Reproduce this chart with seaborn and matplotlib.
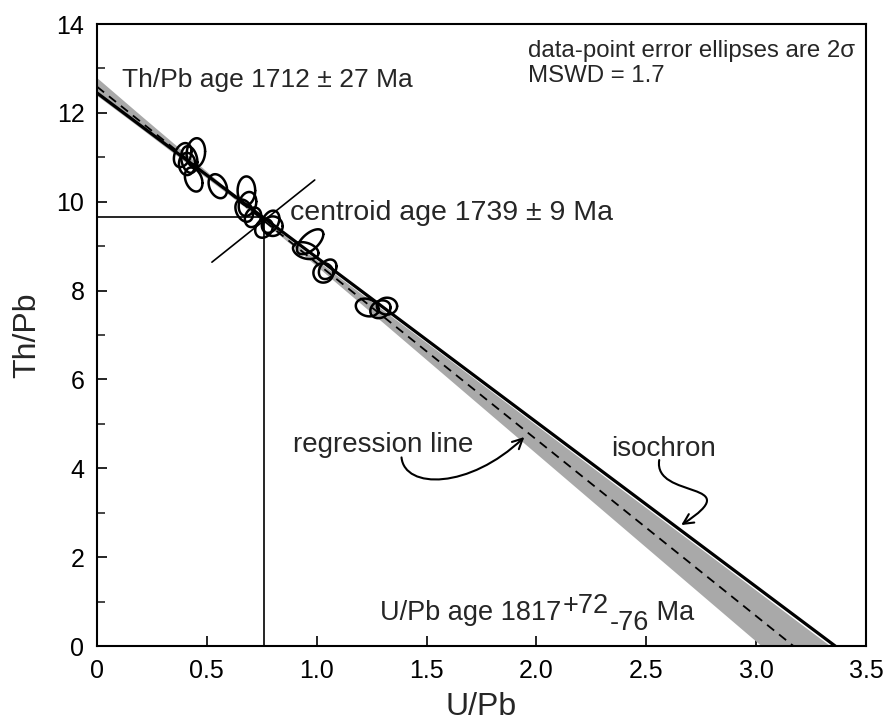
import numpy as np
import pandas as pd
import matplotlib
matplotlib.use("Agg")
import matplotlib.pyplot as plt
import seaborn as sns
from matplotlib.patches import FancyArrowPatch
from matplotlib.path import Path

# ---- data-point error ellipses (2 sigma) ----
u_pb   = [0.39, 0.42, 0.45, 0.41, 0.44, 0.55, 0.68, 0.685, 0.67, 0.71, 0.76, 0.80, 0.79, 0.97, 0.95, 1.03, 1.05, 1.23, 1.29, 1.32]
th_pb  = [11.05, 10.95, 11.10, 10.85, 10.50, 10.35, 10.25, 9.95, 9.80, 9.65, 9.40, 9.45, 9.55, 9.10, 8.90, 8.40, 8.48, 7.62, 7.58, 7.65]
err_u  = [0.040, 0.037, 0.042, 0.037, 0.040, 0.042, 0.040, 0.040, 0.040, 0.037, 0.040, 0.045, 0.040, 0.060, 0.058, 0.045, 0.040, 0.052, 0.046, 0.046]
err_th = [0.27, 0.30, 0.33, 0.25, 0.27, 0.27, 0.32, 0.27, 0.25, 0.22, 0.21, 0.22, 0.25, 0.28, 0.19, 0.22, 0.22, 0.20, 0.20, 0.19]
rho    = [0.3, -0.2, 0.1, 0.0, -0.3, -0.3, 0.0, 0.2, -0.3, 0.2, 0.2, 0.0, 0.3, 0.6, -0.3, 0.0, 0.3, -0.2, 0.2, 0.0]

# ---- regression line (dashed) and isochron (solid): intercepts on Th/Pb and U/Pb axes ----
regression_th0, regression_u0 = 12.59, 3.17
isochron_th0, isochron_u0 = 12.45, 3.36

# ---- regression error envelope (grey band) ----
band_u  = [0.0, 0.2, 0.4, 0.6, 0.76, 0.9, 1.2, 1.6, 2.0, 2.4, 2.8, 3.2, 3.4]
band_hi = [12.79, 11.94, 11.10, 10.26, 9.60, 9.06, 7.94, 6.46, 4.97, 3.48, 2.00, 0.51, -0.23]
band_lo = [12.39, 11.65, 10.90, 10.16, 9.54, 8.97, 7.71, 6.02, 4.33, 2.64, 0.95, -0.74, -1.59]

# ---- centroid ----
centroid_u, centroid_th = 0.76, 9.65
cross_u  = [0.523, 0.991]
cross_th = [8.64, 10.49]

# ---- ticks ----
x_ticks = [0, 0.5, 1.0, 1.5, 2.0, 2.5, 3.0, 3.5]
x_tick_labels = ["0", "0.5", "1.0", "1.5", "2.0", "2.5", "3.0", "3.5"]
y_ticks = [0, 2, 4, 6, 8, 10, 12, 14]
y_tick_labels = ["0", "2", "4", "6", "8", "10", "12", "14"]
y_minor = [1, 3, 5, 7, 9, 11, 13]

sns.set_theme(style="ticks")
plt.rcParams["font.family"] = ["Liberation Sans", "DejaVu Sans"]
plt.rcParams["axes.edgecolor"] = "black"
plt.rcParams["axes.linewidth"] = 1.5

fig = plt.figure(figsize=(8.85, 7.24), dpi=100)
ax = fig.add_axes([0.1096, 0.1077, 0.8689, 0.8591])

# band
ax.fill_between(band_u, band_lo, band_hi, color="#a9a9a9", linewidth=0, zorder=1)

# regression & isochron lines
reg_df = pd.DataFrame({"u": [0, regression_u0], "th": [regression_th0, 0]})
iso_df = pd.DataFrame({"u": [0, isochron_u0], "th": [isochron_th0, 0]})
sns.lineplot(data=reg_df, x="u", y="th", ax=ax, color="black", lw=1.3,
             linestyle=(0, (5, 3.5)), zorder=3)
sns.lineplot(data=iso_df, x="u", y="th", ax=ax, color="black", lw=2.3, zorder=4)

# centroid lines
ax.plot([0, centroid_u], [centroid_th, centroid_th], color="black", lw=1.2, zorder=4)
ax.plot([centroid_u, centroid_u], [0, centroid_th], color="black", lw=1.2, zorder=4)
ax.plot(cross_u, cross_th, color="black", lw=1.2, zorder=4)

# error ellipses
t = np.linspace(0, 2 * np.pi, 120)
for cx, cy, sx, sy, r in zip(u_pb, th_pb, err_u, err_th, rho):
    ex = cx + sx * np.cos(t)
    ey = cy + sy * (r * np.cos(t) + np.sqrt(1 - r * r) * np.sin(t))
    ax.plot(ex, ey, color="black", lw=1.8, zorder=5)

# texts
ax.text(0.112, 12.58, "Th/Pb age 1712 ± 27 Ma", fontsize=19, va="baseline")
ax.text(0.877, 9.59, "centroid age 1739 ± 9 Ma", fontsize=20.5, va="baseline")
ax.text(1.96, 13.25, "data-point error ellipses are 2σ", fontsize=17.3, va="baseline")
ax.text(1.96, 12.70, "MSWD = 1.7", fontsize=17.3, va="baseline")
ax.text(0.892, 4.37, "regression line", fontsize=20, va="baseline")
ax.text(2.339, 4.28, "isochron", fontsize=20, va="baseline")

t1 = ax.text(1.286, 0.585, "U/Pb age 1817", fontsize=19.5, va="baseline")
t2 = ax.annotate("+72", xy=(1, 0), xycoords=t1, xytext=(1.5, 5), textcoords="offset points",
                 fontsize=19.5, va="bottom", ha="left")
t3 = ax.annotate("-76", xy=(1, 0), xycoords=t2, xytext=(0.5, -12.2), textcoords="offset points",
                 fontsize=19.5, va="bottom", ha="left")
t4 = ax.annotate(" Ma", xy=(1, 0), xycoords=t3, xytext=(0, 7.2), textcoords="offset points",
                 fontsize=19.5, va="bottom", ha="left")

# curved arrows
reg_path = Path([(1.386, 4.245), (1.400, 3.525), (1.695, 3.525), (1.945, 4.704)],
                [Path.MOVETO, Path.CURVE4, Path.CURVE4, Path.CURVE4])
ax.add_patch(FancyArrowPatch(path=reg_path, arrowstyle="->", mutation_scale=18,
                             color="black", lw=1.5, zorder=6))
iso_path = Path([(2.559, 4.186), (2.530, 3.286), (2.975, 3.736), (2.659, 2.723)],
                [Path.MOVETO, Path.CURVE4, Path.CURVE4, Path.CURVE4])
ax.add_patch(FancyArrowPatch(path=iso_path, arrowstyle="->", mutation_scale=18,
                             color="black", lw=1.5, zorder=6))

# axes
ax.set_xlim(0, 3.5)
ax.set_ylim(0, 14)
ax.set_xticks(x_ticks)
ax.set_xticklabels(x_tick_labels)
ax.set_yticks(y_ticks)
ax.set_yticklabels(y_tick_labels)
ax.set_yticks(y_minor, minor=True)
ax.tick_params(axis="both", which="major", direction="in", length=7, width=1.2,
               labelsize=18, pad=9, colors="black")
ax.tick_params(axis="y", which="minor", direction="in", length=6, width=1.2)
ax.set_xlabel("U/Pb", fontsize=23, labelpad=7)
ax.set_ylabel("Th/Pb", fontsize=23, labelpad=10)
for s in ax.spines.values():
    s.set_color("black")
    s.set_linewidth(1.5)

fig.savefig("out.png", dpi=100)
